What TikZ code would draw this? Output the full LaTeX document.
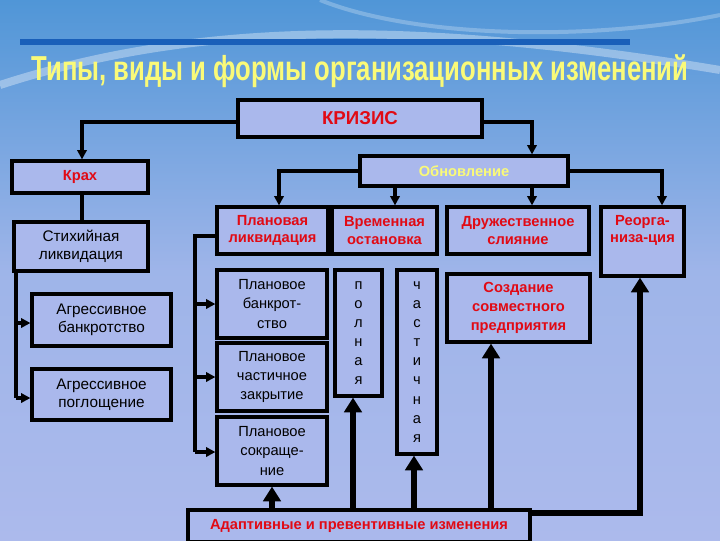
\documentclass[tikz,border=0pt]{standalone}
\usepackage{fontspec}
\setmainfont{Liberation Sans}
\usetikzlibrary{fit,arrows.meta}
\definecolor{bgtop}{RGB}{80,150,215}
\definecolor{bgbot}{RGB}{172,186,236}
\definecolor{boxfill}{RGB}{170,184,236}
\definecolor{redt}{RGB}{225,10,20}
\definecolor{yelt}{RGB}{250,250,120}
\definecolor{lineblue}{RGB}{25,95,185}
\tikzset{
 box/.style={draw=black,line width=2.4pt,fill=boxfill,inner sep=0pt,align=center},
 bt/.style={align=center,font=\fontsize{11.5}{13.5}\selectfont},
 rb/.style={align=center,text=redt,font=\fontsize{11}{13}\selectfont\bfseries},
 conn/.style={line width=2.4pt,-{Triangle[length=7pt,width=7pt]}},
 thick up/.style={line width=5pt,-{Triangle[length=11pt,width=13pt]}},
}
\begin{document}
\begin{tikzpicture}[x=0.75pt,y=-0.75pt]
\useasboundingbox (0,0) rectangle (720,540);
\shade[top color=bgtop,bottom color=bgbot,middle color=bgbot!85!bgtop] (0,0) rectangle (720,540);
\draw[white,opacity=0.35,line width=6pt] (0,85) .. controls (200,20) and (420,20) .. (720,70);
\draw[white,opacity=0.25,line width=3pt] (320,0) .. controls (420,40) and (600,40) .. (720,15);
\draw[lineblue,line width=4pt] (20,42) -- (630,42);
\node[font=\fontsize{26}{30}\selectfont\bfseries,text=yelt,xscale=0.74] (title) at (360,71) {Типы, виды и формы организационных изменений};

% boxes
\node[box,fit={(238,100)(482,137)}] (krizis) {};
\node[rb,font=\fontsize{14}{16}\selectfont\bfseries] at (krizis.center) {КРИЗИС};
\node[box,fit={(12,161)(148,193)}] (krah) {};
\node[rb] at (krah.center) {Крах};
\node[box,fit={(360,156)(568,186)}] (obn) {};
\node[text=yelt,font=\fontsize{11}{13}\selectfont\bfseries] at (obn.center) {Обновление};

\node[box,fit={(14,222)(148,271)}] (stih) {};
\node[bt] at (stih.center) {Стихийная\\ликвидация};
\node[box,fit={(32,294)(171,346)}] (agb) {};
\node[bt] at (agb.center) {Агрессивное\\банкротство};
\node[box,fit={(32,369)(171,420)}] (agp) {};
\node[bt] at (agp.center) {Агрессивное\\поглощение};

\node[box,fit={(217,207)(328,254)}] (plik) {};
\node[rb] at (plik.center) {Плановая\\ликвидация};
\node[box,fit={(332,207)(437,254)}] (vrem) {};
\node[rb] at (vrem.center) {Временная\\остановка};
\node[box,fit={(447,207)(589,254)}] (druzh) {};
\node[rb] at (druzh.center) {Дружественное\\слияние};
\node[box,fit={(601,207)(684,276)}] (reorg) {};
\node[rb,anchor=north] at (reorg.north) [yshift=-4pt] {Реорга-\\низа-ция};

\node[box,fit={(217,270)(327,338)}] (pb) {};
\node[bt,font=\fontsize{11}{14.5}\selectfont] at (pb.center) {Плановое\\банкрот-\\ство};
\node[box,fit={(217,343)(327,411)}] (pch) {};
\node[bt,font=\fontsize{11}{14.5}\selectfont] at (pch.center) {Плановое\\частичное\\закрытие};
\node[box,fit={(217,417)(327,485)}] (ps) {};
\node[bt,font=\fontsize{11}{14.5}\selectfont] at (ps.center) {Плановое\\сокраще-\\ние};

\node[box,fit={(335,270)(382,396)}] (poln) {};
\node[bt,font=\fontsize{11}{14.3}\selectfont] at (poln.center) {п\\о\\л\\н\\а\\я};
\node[box,fit={(397,270)(437,454)}] (chast) {};
\node[bt,font=\fontsize{11}{14.3}\selectfont] at (chast.center) {ч\\а\\с\\т\\и\\ч\\н\\а\\я};
\node[box,fit={(447,274)(590,342)}] (sozd) {};
\node[rb,font=\fontsize{11}{14.5}\selectfont\bfseries] at (sozd.center) {Создание\\совместного\\предприятия};

\node[box,fit={(188,510)(530,542)}] (adapt) {};
\node[rb] at (adapt.center) {Адаптивные и превентивные изменения};

% connectors
\draw[conn] (krizis.west |- 0,122) -| (krah.north -| 82,0);
\draw[conn] (krizis.east |- 0,122) -| (obn.north -| 532,0);
\draw[conn] (obn.west) -| (plik.north -| 279,0);
\draw[conn] (obn.south -| 395,0) -- (vrem.north -| 395,0);
\draw[conn] (obn.south -| 532,0) -- (druzh.north -| 532,0);
\draw[conn] (obn.east) -| (reorg.north -| 662,0);
\draw[line width=2.4pt] (krah.south -| 82,0) -- (stih.north -| 82,0);

\coordinate (lb) at (16,398);
\draw[line width=2.4pt] (stih.south -| 16,0) -- (lb);
\draw[conn] (16,323) -- (agb.west |- 0,323);
\draw[conn] (lb) -- (agp.west |- 0,398);

\coordinate (mb) at (195,452);
\draw[line width=2.4pt] (plik.west |- 0,236) -| (mb);
\draw[conn] (195,304) -- (pb.west |- 0,304);
\draw[conn] (195,377) -- (pch.west |- 0,377);
\draw[conn] (mb) -- (ps.west |- 0,452);

\draw[thick up] (adapt.north -| 272,0) -- (ps.south -| 272,0);
\draw[thick up] (adapt.north -| 353,0) -- (poln.south -| 353,0);
\draw[thick up] (adapt.north -| 414,0) -- (chast.south -| 414,0);
\draw[thick up] (adapt.north -| 491,0) -- (sozd.south -| 491,0);
\draw[thick up] (adapt.east |- 0,513) -| (reorg.south -| 640,0);
\end{tikzpicture}
\end{document}
